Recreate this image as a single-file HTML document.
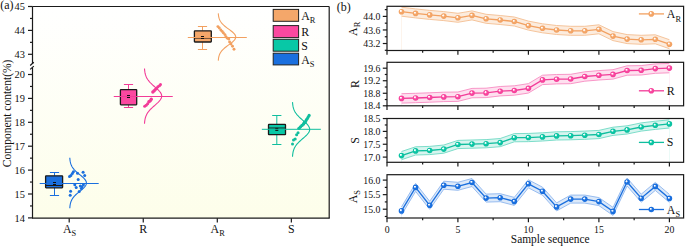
<!DOCTYPE html>
<html><head><meta charset="utf-8"><style>
html,body{margin:0;padding:0;background:#fff;}
svg{display:block;}
</style></head><body>
<svg width="685" height="246" viewBox="0 0 685 246">
<defs><linearGradient id="bg" x1="0" y1="0" x2="0" y2="1"><stop offset="0" stop-color="#ffffff"/><stop offset="1" stop-color="#FDFEEA"/></linearGradient>
<radialGradient id="sphAR" cx="0.5" cy="0.5" r="0.55" fx="0.34" fy="0.32"><stop offset="0" stop-color="#ffffff"/><stop offset="0.18" stop-color="#ffffff" stop-opacity="0.9"/><stop offset="0.45" stop-color="#F4A76A"/><stop offset="1" stop-color="#F2A060"/></radialGradient>
<radialGradient id="sphR" cx="0.5" cy="0.5" r="0.55" fx="0.34" fy="0.32"><stop offset="0" stop-color="#ffffff"/><stop offset="0.18" stop-color="#ffffff" stop-opacity="0.9"/><stop offset="0.45" stop-color="#FB48A0"/><stop offset="1" stop-color="#F23C98"/></radialGradient>
<radialGradient id="sphS" cx="0.5" cy="0.5" r="0.55" fx="0.34" fy="0.32"><stop offset="0" stop-color="#ffffff"/><stop offset="0.18" stop-color="#ffffff" stop-opacity="0.9"/><stop offset="0.45" stop-color="#08C8A6"/><stop offset="1" stop-color="#10BE9E"/></radialGradient>
<radialGradient id="sphAS" cx="0.5" cy="0.5" r="0.55" fx="0.34" fy="0.32"><stop offset="0" stop-color="#ffffff"/><stop offset="0.18" stop-color="#ffffff" stop-opacity="0.9"/><stop offset="0.45" stop-color="#1A6FDE"/><stop offset="1" stop-color="#1A6FDE"/></radialGradient>
</defs>
<rect x="32.5" y="6.5" width="296.7" height="211.7" fill="url(#bg)"/>
<line x1="54.5" y1="172.5" x2="54.5" y2="175.8" stroke="#1A6FDE" stroke-width="1"/>
<line x1="54.5" y1="187.8" x2="54.5" y2="195.5" stroke="#1A6FDE" stroke-width="1"/>
<line x1="49.9" y1="172.5" x2="59.1" y2="172.5" stroke="#1A6FDE" stroke-width="1"/>
<line x1="49.9" y1="195.5" x2="59.1" y2="195.5" stroke="#1A6FDE" stroke-width="1"/>
<rect x="45.6" y="175.8" width="17.0" height="12.0" fill="#1A6FDE" stroke="#1a1a1a" stroke-width="1.3" rx="0.5"/>
<line x1="45.6" y1="185.5" x2="62.6" y2="185.5" stroke="#1a1a1a" stroke-width="1" opacity="1"/>
<rect x="53" y="182" width="3" height="3" fill="#111"/>
<line x1="39.7" y1="183.5" x2="98.7" y2="183.5" stroke="#1A6FDE" stroke-width="1"/>
<polyline points="69.80,157.80 69.86,158.64 69.94,159.48 70.03,160.32 70.16,161.16 70.32,162.00 70.51,162.84 70.75,163.68 71.04,164.52 71.39,165.36 71.79,166.20 72.27,167.04 72.82,167.88 73.45,168.72 74.15,169.56 74.93,170.40 75.78,171.24 76.69,172.08 77.65,172.92 78.66,173.76 79.68,174.60 80.71,175.44 81.71,176.28 82.68,177.12 83.58,177.96 84.39,178.80 85.08,179.64 85.64,180.48 86.06,181.32 86.31,182.16 86.40,183.00 86.31,183.84 86.06,184.68 85.64,185.52 85.08,186.36 84.39,187.20 83.58,188.04 82.68,188.88 81.71,189.72 80.71,190.56 79.68,191.40 78.66,192.24 77.65,193.08 76.69,193.92 75.78,194.76 74.93,195.60 74.15,196.44 73.45,197.28 72.82,198.12 72.27,198.96 71.79,199.80 71.39,200.64 71.04,201.48 70.75,202.32 70.51,203.16 70.32,204.00 70.16,204.84 70.03,205.68 69.94,206.52 69.86,207.36 69.80,208.20" fill="none" stroke="#1A6FDE" stroke-width="1.1"/>
<line x1="128.5" y1="84.5" x2="128.5" y2="89.7" stroke="#F23C98" stroke-width="1"/>
<line x1="128.5" y1="104.8" x2="128.5" y2="107.5" stroke="#F23C98" stroke-width="1"/>
<line x1="123.9" y1="84.5" x2="133.1" y2="84.5" stroke="#F23C98" stroke-width="1"/>
<line x1="123.9" y1="107.5" x2="133.1" y2="107.5" stroke="#F23C98" stroke-width="1"/>
<rect x="120.4" y="89.7" width="16.299999999999983" height="15.099999999999994" fill="#FB48A0" stroke="#1a1a1a" stroke-width="1.3" rx="0.5"/>
<rect x="127" y="95" width="3" height="3" fill="#111"/>
<line x1="113.75" y1="96.5" x2="172.75" y2="96.5" stroke="#F23C98" stroke-width="1"/>
<polyline points="144.50,68.50 144.57,69.42 144.65,70.34 144.76,71.26 144.90,72.18 145.07,73.10 145.28,74.02 145.54,74.94 145.85,75.86 146.22,76.78 146.66,77.70 147.17,78.62 147.75,79.54 148.41,80.46 149.14,81.38 149.95,82.30 150.83,83.22 151.78,84.14 152.77,85.06 153.80,85.98 154.86,86.90 155.91,87.82 156.94,88.74 157.92,89.66 158.83,90.58 159.66,91.50 160.36,92.42 160.93,93.34 161.36,94.26 161.61,95.18 161.70,96.10 161.61,97.02 161.36,97.94 160.93,98.86 160.36,99.78 159.66,100.70 158.83,101.62 157.92,102.54 156.94,103.46 155.91,104.38 154.86,105.30 153.80,106.22 152.77,107.14 151.78,108.06 150.83,108.98 149.95,109.90 149.14,110.82 148.41,111.74 147.75,112.66 147.17,113.58 146.66,114.50 146.22,115.42 145.85,116.34 145.54,117.26 145.28,118.18 145.07,119.10 144.90,120.02 144.76,120.94 144.65,121.86 144.57,122.78 144.50,123.70" fill="none" stroke="#F23C98" stroke-width="1.1"/>
<line x1="202.5" y1="26.5" x2="202.5" y2="30.8" stroke="#F2A060" stroke-width="1"/>
<line x1="202.5" y1="42.0" x2="202.5" y2="49.5" stroke="#F2A060" stroke-width="1"/>
<line x1="197.9" y1="26.5" x2="207.1" y2="26.5" stroke="#F2A060" stroke-width="1"/>
<line x1="197.9" y1="49.5" x2="207.1" y2="49.5" stroke="#F2A060" stroke-width="1"/>
<rect x="194.4" y="30.8" width="16.900000000000006" height="11.2" fill="#F4A76A" stroke="#1a1a1a" stroke-width="1.3" rx="0.5"/>
<line x1="194.4" y1="38.5" x2="211.3" y2="38.5" stroke="#1a1a1a" stroke-width="1" opacity="0.55"/>
<rect x="201" y="36" width="3" height="3" fill="#111"/>
<line x1="187.8" y1="37.5" x2="246.8" y2="37.5" stroke="#F2A060" stroke-width="1"/>
<polyline points="218.30,13.40 218.36,14.19 218.45,14.97 218.55,15.76 218.68,16.55 218.85,17.33 219.06,18.12 219.31,18.91 219.62,19.69 219.99,20.48 220.42,21.27 220.92,22.05 221.50,22.84 222.16,23.63 222.90,24.41 223.72,25.20 224.61,25.99 225.56,26.77 226.57,27.56 227.62,28.35 228.69,29.13 229.76,29.92 230.82,30.71 231.82,31.49 232.76,32.28 233.60,33.07 234.33,33.85 234.91,34.64 235.35,35.43 235.61,36.21 235.70,37.00 235.61,37.79 235.35,38.57 234.91,39.36 234.33,40.15 233.60,40.93 232.76,41.72 231.82,42.51 230.82,43.29 229.76,44.08 228.69,44.87 227.62,45.65 226.57,46.44 225.56,47.23 224.61,48.01 223.72,48.80 222.90,49.59 222.16,50.37 221.50,51.16 220.92,51.95 220.42,52.73 219.99,53.52 219.62,54.31 219.31,55.09 219.06,55.88 218.85,56.67 218.68,57.45 218.55,58.24 218.45,59.03 218.36,59.81 218.30,60.60" fill="none" stroke="#F2A060" stroke-width="1.1"/>
<line x1="276.8" y1="115.5" x2="276.8" y2="124.4" stroke="#10BE9E" stroke-width="1"/>
<line x1="276.8" y1="134.7" x2="276.8" y2="144.5" stroke="#10BE9E" stroke-width="1"/>
<line x1="272.2" y1="115.5" x2="281.40000000000003" y2="115.5" stroke="#10BE9E" stroke-width="1"/>
<line x1="272.2" y1="144.5" x2="281.40000000000003" y2="144.5" stroke="#10BE9E" stroke-width="1"/>
<rect x="268.5" y="124.4" width="17.0" height="10.299999999999983" fill="#08C8A6" stroke="#1a1a1a" stroke-width="1.3" rx="0.5"/>
<line x1="268.5" y1="128.0" x2="285.5" y2="128.0" stroke="#1a1a1a" stroke-width="1" opacity="1"/>
<rect x="275.3" y="127.9" width="3" height="3" fill="#111"/>
<line x1="261.84999999999997" y1="129.3" x2="320.84999999999997" y2="129.3" stroke="#10BE9E" stroke-width="1"/>
<polyline points="292.50,102.10 292.57,103.01 292.65,103.92 292.76,104.83 292.90,105.74 293.07,106.65 293.28,107.56 293.54,108.47 293.85,109.38 294.22,110.29 294.66,111.20 295.17,112.11 295.75,113.02 296.41,113.93 297.14,114.84 297.95,115.75 298.83,116.66 299.78,117.57 300.77,118.48 301.80,119.39 302.86,120.30 303.91,121.21 304.94,122.12 305.92,123.03 306.83,123.94 307.66,124.85 308.36,125.76 308.93,126.67 309.36,127.58 309.61,128.49 309.70,129.40 309.61,130.31 309.36,131.22 308.93,132.13 308.36,133.04 307.66,133.95 306.83,134.86 305.92,135.77 304.94,136.68 303.91,137.59 302.86,138.50 301.80,139.41 300.77,140.32 299.78,141.23 298.83,142.14 297.95,143.05 297.14,143.96 296.41,144.87 295.75,145.78 295.17,146.69 294.66,147.60 294.22,148.51 293.85,149.42 293.54,150.33 293.28,151.24 293.07,152.15 292.90,153.06 292.76,153.97 292.65,154.88 292.57,155.79 292.50,156.70" fill="none" stroke="#10BE9E" stroke-width="1.1"/>
<circle cx="69.50" cy="176.40" r="1.5" fill="#1A6FDE"/>
<circle cx="70.90" cy="175.40" r="1.5" fill="#1A6FDE"/>
<circle cx="72.30" cy="173.60" r="1.5" fill="#1A6FDE"/>
<circle cx="73.40" cy="171.80" r="1.5" fill="#1A6FDE"/>
<circle cx="77.50" cy="173.20" r="1.5" fill="#1A6FDE"/>
<circle cx="83.10" cy="172.20" r="1.5" fill="#1A6FDE"/>
<circle cx="84.70" cy="175.40" r="1.5" fill="#1A6FDE"/>
<circle cx="78.20" cy="179.50" r="1.5" fill="#1A6FDE"/>
<circle cx="74.80" cy="184.70" r="1.5" fill="#1A6FDE"/>
<circle cx="76.20" cy="187.40" r="1.5" fill="#1A6FDE"/>
<circle cx="80.30" cy="186.00" r="1.5" fill="#1A6FDE"/>
<circle cx="82.00" cy="186.70" r="1.5" fill="#1A6FDE"/>
<circle cx="83.40" cy="184.70" r="1.5" fill="#1A6FDE"/>
<circle cx="81.30" cy="188.40" r="1.5" fill="#1A6FDE"/>
<circle cx="79.20" cy="191.60" r="1.5" fill="#1A6FDE"/>
<circle cx="70.60" cy="191.20" r="1.5" fill="#1A6FDE"/>
<circle cx="70.20" cy="195.30" r="1.5" fill="#1A6FDE"/>
<circle cx="152.84" cy="92.03" r="1.7" fill="#F23C98"/>
<circle cx="154.22" cy="90.76" r="1.7" fill="#F23C98"/>
<circle cx="155.68" cy="89.14" r="1.7" fill="#F23C98"/>
<circle cx="156.51" cy="88.20" r="1.5" fill="#F23C98"/>
<circle cx="157.82" cy="86.71" r="1.5" fill="#F23C98"/>
<circle cx="159.43" cy="85.72" r="1.5" fill="#F23C98"/>
<circle cx="160.50" cy="84.59" r="1.5" fill="#F23C98"/>
<circle cx="144.68" cy="106.19" r="1.5" fill="#F23C98"/>
<circle cx="146.18" cy="105.22" r="1.5" fill="#F23C98"/>
<circle cx="147.61" cy="103.74" r="1.5" fill="#F23C98"/>
<circle cx="148.90" cy="101.74" r="1.7" fill="#F23C98"/>
<circle cx="150.25" cy="100.85" r="1.7" fill="#F23C98"/>
<circle cx="151.28" cy="99.32" r="1.7" fill="#F23C98"/>
<circle cx="217.90" cy="26.60" r="1.45" fill="#F2A060"/>
<circle cx="219.30" cy="28.00" r="1.45" fill="#F2A060"/>
<circle cx="220.80" cy="30.00" r="1.45" fill="#F2A060"/>
<circle cx="222.20" cy="31.40" r="1.45" fill="#F2A060"/>
<circle cx="223.40" cy="32.90" r="1.45" fill="#F2A060"/>
<circle cx="224.90" cy="34.60" r="1.45" fill="#F2A060"/>
<circle cx="225.90" cy="36.80" r="1.45" fill="#F2A060"/>
<circle cx="227.40" cy="38.30" r="1.45" fill="#F2A060"/>
<circle cx="228.80" cy="39.00" r="1.45" fill="#F2A060"/>
<circle cx="229.60" cy="42.00" r="1.45" fill="#F2A060"/>
<circle cx="231.00" cy="44.10" r="1.45" fill="#F2A060"/>
<circle cx="232.50" cy="46.30" r="1.45" fill="#F2A060"/>
<circle cx="234.00" cy="49.30" r="1.45" fill="#F2A060"/>
<circle cx="309.12" cy="115.38" r="1.6" fill="#10BE9E"/>
<circle cx="308.19" cy="117.09" r="1.6" fill="#10BE9E"/>
<circle cx="307.35" cy="118.57" r="1.6" fill="#10BE9E"/>
<circle cx="306.32" cy="119.96" r="1.6" fill="#10BE9E"/>
<circle cx="305.51" cy="121.50" r="1.6" fill="#10BE9E"/>
<circle cx="304.93" cy="122.46" r="1.6" fill="#10BE9E"/>
<circle cx="304.48" cy="122.53" r="1.7" fill="#10BE9E"/>
<circle cx="303.58" cy="124.06" r="1.7" fill="#10BE9E"/>
<circle cx="301.98" cy="125.38" r="1.7" fill="#10BE9E"/>
<circle cx="300.50" cy="126.83" r="1.7" fill="#10BE9E"/>
<circle cx="299.01" cy="128.35" r="1.7" fill="#10BE9E"/>
<circle cx="298.05" cy="132.64" r="1.5" fill="#10BE9E"/>
<circle cx="296.61" cy="134.76" r="1.5" fill="#10BE9E"/>
<circle cx="295.21" cy="138.89" r="1.5" fill="#10BE9E"/>
<circle cx="293.50" cy="140.00" r="1.5" fill="#10BE9E"/>
<circle cx="292.52" cy="143.98" r="1.5" fill="#10BE9E"/>
<g stroke="#1a1a1a" stroke-width="1.2" fill="none">
<line x1="32.5" y1="6.5" x2="329.2" y2="6.5"/>
<line x1="329.2" y1="6.5" x2="329.2" y2="218.2"/>
<line x1="32.0" y1="218.2" x2="329.7" y2="218.2"/>
<line x1="32.5" y1="6.5" x2="32.5" y2="64"/>
<line x1="32.5" y1="67.5" x2="32.5" y2="218.2"/>
<line x1="30.2" y1="65.5" x2="33.8" y2="62.2"/>
<line x1="30.2" y1="69.4" x2="33.8" y2="66.1"/>
<line x1="28.0" y1="6.5" x2="32.5" y2="6.5"/>
<line x1="28.0" y1="30.4" x2="32.5" y2="30.4"/>
<line x1="28.0" y1="54.3" x2="32.5" y2="54.3"/>
<line x1="30.0" y1="18.45" x2="32.5" y2="18.45"/>
<line x1="30.0" y1="42.349999999999994" x2="32.5" y2="42.349999999999994"/>
<line x1="28.0" y1="217.9" x2="32.5" y2="217.9"/>
<line x1="28.0" y1="194.0" x2="32.5" y2="194.0"/>
<line x1="28.0" y1="170.10000000000002" x2="32.5" y2="170.10000000000002"/>
<line x1="28.0" y1="146.20000000000002" x2="32.5" y2="146.20000000000002"/>
<line x1="28.0" y1="122.30000000000001" x2="32.5" y2="122.30000000000001"/>
<line x1="28.0" y1="98.4" x2="32.5" y2="98.4"/>
<line x1="28.0" y1="74.50000000000003" x2="32.5" y2="74.50000000000003"/>
<line x1="30.0" y1="205.95000000000002" x2="32.5" y2="205.95000000000002"/>
<line x1="30.0" y1="182.05" x2="32.5" y2="182.05"/>
<line x1="30.0" y1="158.15" x2="32.5" y2="158.15"/>
<line x1="30.0" y1="134.25" x2="32.5" y2="134.25"/>
<line x1="30.0" y1="110.35000000000001" x2="32.5" y2="110.35000000000001"/>
<line x1="30.0" y1="86.45000000000002" x2="32.5" y2="86.45000000000002"/>
<line x1="69.2" y1="218.2" x2="69.2" y2="222.5"/>
<line x1="143.25" y1="218.2" x2="143.25" y2="222.5"/>
<line x1="217.3" y1="218.2" x2="217.3" y2="222.5"/>
<line x1="291.34999999999997" y1="218.2" x2="291.34999999999997" y2="222.5"/>
</g>
<g font-family='"Liberation Serif", serif' font-size="10.4" fill="#111" text-anchor="end">
<text transform="translate(25.0,10.40) scale(1,1.06)">45</text>
<text transform="translate(25.0,34.30) scale(1,1.06)">44</text>
<text transform="translate(25.0,58.20) scale(1,1.06)">43</text>
<text transform="translate(25.0,221.80) scale(1,1.06)">14</text>
<text transform="translate(25.0,197.90) scale(1,1.06)">15</text>
<text transform="translate(25.0,174.00) scale(1,1.06)">16</text>
<text transform="translate(25.0,150.10) scale(1,1.06)">17</text>
<text transform="translate(25.0,126.20) scale(1,1.06)">18</text>
<text transform="translate(25.0,102.30) scale(1,1.06)">19</text>
<text transform="translate(25.0,78.40) scale(1,1.06)">20</text>
</g>
<text transform="translate(69.60000000000001,232.6) scale(1,1.06)" font-family='"Liberation Serif", serif' font-size="11.9" fill="#111" text-anchor="middle" >A<tspan font-size="8.4" dy="3">S</tspan></text>
<text transform="translate(143.25,232.6) scale(1,1.06)" font-family='"Liberation Serif", serif' font-size="11.9" fill="#111" text-anchor="middle" >R</text>
<text transform="translate(217.70000000000002,232.6) scale(1,1.06)" font-family='"Liberation Serif", serif' font-size="11.9" fill="#111" text-anchor="middle" >A<tspan font-size="8.4" dy="3">R</tspan></text>
<text transform="translate(291.34999999999997,232.6) scale(1,1.06)" font-family='"Liberation Serif", serif' font-size="11.9" fill="#111" text-anchor="middle" >S</text>
<text transform="translate(0.3,9.4) scale(1,1.06)" font-family='"Liberation Serif", serif' font-size="12" fill="#111">(a)</text>
<text transform="translate(10.7,113.4) rotate(-90) scale(1,1.06)" font-family='"Liberation Serif", serif' font-size="11.5" fill="#111" text-anchor="middle">Component content(%)</text>
<rect x="273.2" y="9.4" width="25.4" height="11.9" fill="#F4A76A" stroke="#222" stroke-width="1"/>
<text transform="translate(301.2,19.900000000000002) scale(1,1.06)" font-family='"Liberation Serif", serif' font-size="11.9" fill="#111" text-anchor="start" >A<tspan font-size="8.4" dy="3">R</tspan></text>
<rect x="273.2" y="25.6" width="25.4" height="12.0" fill="#FB48A0" stroke="#222" stroke-width="1"/>
<text transform="translate(301.2,36.2) scale(1,1.06)" font-family='"Liberation Serif", serif' font-size="11.9" fill="#111" text-anchor="start" >R</text>
<rect x="273.2" y="39.3" width="25.4" height="11.900000000000006" fill="#08C8A6" stroke="#222" stroke-width="1"/>
<text transform="translate(301.2,49.800000000000004) scale(1,1.06)" font-family='"Liberation Serif", serif' font-size="11.9" fill="#111" text-anchor="start" >S</text>
<rect x="273.2" y="53.2" width="25.4" height="11.700000000000003" fill="#1A6FDE" stroke="#222" stroke-width="1"/>
<text transform="translate(301.2,63.50000000000001) scale(1,1.06)" font-family='"Liberation Serif", serif' font-size="11.9" fill="#111" text-anchor="start" >A<tspan font-size="8.4" dy="3">S</tspan></text>
<rect x="387.0" y="6.3" width="296.6" height="44.2" fill="#fff"/>
<polygon points="401.50,7.20 415.60,8.90 429.70,10.40 443.80,11.60 457.90,13.30 472.00,10.90 486.10,14.30 500.20,15.50 514.30,17.00 528.40,21.10 542.50,23.80 556.60,25.50 570.70,26.30 584.80,26.30 598.90,24.80 613.00,31.60 627.10,34.60 641.20,35.30 655.30,34.80 669.40,39.70 669.40,48.70 655.30,43.80 641.20,44.30 627.10,43.60 613.00,40.60 598.90,33.80 584.80,35.30 570.70,35.30 556.60,34.50 542.50,32.80 528.40,30.10 514.30,26.00 500.20,24.50 486.10,23.30 472.00,19.90 457.90,22.30 443.80,20.60 429.70,19.40 415.60,17.90 401.50,16.20" fill="#FBE2CD" opacity="0.65"/>
<polyline points="401.50,7.20 415.60,8.90 429.70,10.40 443.80,11.60 457.90,13.30 472.00,10.90 486.10,14.30 500.20,15.50 514.30,17.00 528.40,21.10 542.50,23.80 556.60,25.50 570.70,26.30 584.80,26.30 598.90,24.80 613.00,31.60 627.10,34.60 641.20,35.30 655.30,34.80 669.40,39.70" fill="none" stroke="#F4BE92" stroke-width="0.9"/>
<polyline points="401.50,16.20 415.60,17.90 429.70,19.40 443.80,20.60 457.90,22.30 472.00,19.90 486.10,23.30 500.20,24.50 514.30,26.00 528.40,30.10 542.50,32.80 556.60,34.50 570.70,35.30 584.80,35.30 598.90,33.80 613.00,40.60 627.10,43.60 641.20,44.30 655.30,43.80 669.40,48.70" fill="none" stroke="#F4BE92" stroke-width="0.9"/>
<line x1="401.50" y1="11.70" x2="401.50" y2="50.5" stroke="#FBE2CD" stroke-width="0.6" opacity="0.6"/>
<line x1="669.40" y1="44.20" x2="669.40" y2="50.5" stroke="#FBE2CD" stroke-width="0.6" opacity="0.6"/>
<polyline points="401.50,11.70 415.60,13.40 429.70,14.90 443.80,16.10 457.90,17.80 472.00,15.40 486.10,18.80 500.20,20.00 514.30,21.50 528.40,25.60 542.50,28.30 556.60,30.00 570.70,30.80 584.80,30.80 598.90,29.30 613.00,36.10 627.10,39.10 641.20,39.80 655.30,39.30 669.40,44.20" fill="none" stroke="#F2A060" stroke-width="1.3"/>
<circle cx="401.50" cy="11.70" r="2.8" fill="url(#sphAR)"/>
<circle cx="415.60" cy="13.40" r="2.8" fill="url(#sphAR)"/>
<circle cx="429.70" cy="14.90" r="2.8" fill="url(#sphAR)"/>
<circle cx="443.80" cy="16.10" r="2.8" fill="url(#sphAR)"/>
<circle cx="457.90" cy="17.80" r="2.8" fill="url(#sphAR)"/>
<circle cx="472.00" cy="15.40" r="2.8" fill="url(#sphAR)"/>
<circle cx="486.10" cy="18.80" r="2.8" fill="url(#sphAR)"/>
<circle cx="500.20" cy="20.00" r="2.8" fill="url(#sphAR)"/>
<circle cx="514.30" cy="21.50" r="2.8" fill="url(#sphAR)"/>
<circle cx="528.40" cy="25.60" r="2.8" fill="url(#sphAR)"/>
<circle cx="542.50" cy="28.30" r="2.8" fill="url(#sphAR)"/>
<circle cx="556.60" cy="30.00" r="2.8" fill="url(#sphAR)"/>
<circle cx="570.70" cy="30.80" r="2.8" fill="url(#sphAR)"/>
<circle cx="584.80" cy="30.80" r="2.8" fill="url(#sphAR)"/>
<circle cx="598.90" cy="29.30" r="2.8" fill="url(#sphAR)"/>
<circle cx="613.00" cy="36.10" r="2.8" fill="url(#sphAR)"/>
<circle cx="627.10" cy="39.10" r="2.8" fill="url(#sphAR)"/>
<circle cx="641.20" cy="39.80" r="2.8" fill="url(#sphAR)"/>
<circle cx="655.30" cy="39.30" r="2.8" fill="url(#sphAR)"/>
<circle cx="669.40" cy="44.20" r="2.8" fill="url(#sphAR)"/>
<line x1="638.9" y1="13.9" x2="664" y2="13.9" stroke="#F2A060" stroke-width="1.3"/>
<circle cx="651.3" cy="13.9" r="2.8" fill="url(#sphAR)"/>
<text transform="translate(666.8,18.4) scale(1,1.06)" font-family='"Liberation Serif", serif' font-size="11.9" fill="#111" text-anchor="start" >A<tspan font-size="8.4" dy="3">R</tspan></text>
<rect x="387.0" y="6.3" width="296.6" height="44.2" fill="none" stroke="#1a1a1a" stroke-width="1.2"/>
<g stroke="#1a1a1a" stroke-width="1.2">
<line x1="382.8" y1="43.52" x2="387.0" y2="43.52"/>
<line x1="384.8" y1="36.74" x2="387.0" y2="36.74"/>
<line x1="382.8" y1="29.96" x2="387.0" y2="29.96"/>
<line x1="384.8" y1="23.18" x2="387.0" y2="23.18"/>
<line x1="382.8" y1="16.40" x2="387.0" y2="16.40"/>
<line x1="384.8" y1="9.62" x2="387.0" y2="9.62"/>
<line x1="384.8" y1="50.30" x2="387.0" y2="50.30"/>
<line x1="387.00" y1="50.5" x2="387.00" y2="54.8"/>
<line x1="422.65" y1="50.5" x2="422.65" y2="52.7"/>
<line x1="457.90" y1="50.5" x2="457.90" y2="54.8"/>
<line x1="493.15" y1="50.5" x2="493.15" y2="52.7"/>
<line x1="528.40" y1="50.5" x2="528.40" y2="54.8"/>
<line x1="563.65" y1="50.5" x2="563.65" y2="52.7"/>
<line x1="598.90" y1="50.5" x2="598.90" y2="54.8"/>
<line x1="634.15" y1="50.5" x2="634.15" y2="52.7"/>
<line x1="669.40" y1="50.5" x2="669.40" y2="54.8"/>
</g>
<g font-family='"Liberation Serif", serif' font-size="9.8" fill="#111" text-anchor="end">
<text transform="translate(380.4,20.00) scale(1,1.06)">44.0</text>
<text transform="translate(380.4,33.56) scale(1,1.06)">43.6</text>
<text transform="translate(380.4,47.12) scale(1,1.06)">43.2</text>
</g>
<g transform="translate(357.3,28.8) rotate(-90)"><text transform="translate(0,0) scale(1,1.06)" font-family='"Liberation Serif", serif' font-size="11.9" fill="#111" text-anchor="middle" >A<tspan font-size="8.4" dy="3">R</tspan></text></g>
<rect x="387.0" y="62.3" width="296.6" height="43.5" fill="#fff"/>
<polygon points="401.50,93.70 415.60,93.30 429.70,92.80 443.80,92.20 457.90,92.00 472.00,88.40 486.10,88.20 500.20,86.50 514.30,85.80 528.40,83.65 542.50,75.20 556.60,74.50 570.70,74.30 584.80,71.80 598.90,70.60 613.00,69.70 627.10,65.80 641.20,65.60 655.30,63.90 669.40,63.40 669.40,72.80 655.30,73.30 641.20,75.00 627.10,75.20 613.00,79.10 598.90,80.00 584.80,81.20 570.70,83.70 556.60,83.90 542.50,84.60 528.40,93.05 514.30,95.20 500.20,95.90 486.10,97.60 472.00,97.80 457.90,101.40 443.80,101.60 429.70,102.20 415.60,102.70 401.50,103.10" fill="#FDD0E6" opacity="0.65"/>
<polyline points="401.50,93.70 415.60,93.30 429.70,92.80 443.80,92.20 457.90,92.00 472.00,88.40 486.10,88.20 500.20,86.50 514.30,85.80 528.40,83.65 542.50,75.20 556.60,74.50 570.70,74.30 584.80,71.80 598.90,70.60 613.00,69.70 627.10,65.80 641.20,65.60 655.30,63.90 669.40,63.40" fill="none" stroke="#F78CC2" stroke-width="0.9"/>
<polyline points="401.50,103.10 415.60,102.70 429.70,102.20 443.80,101.60 457.90,101.40 472.00,97.80 486.10,97.60 500.20,95.90 514.30,95.20 528.40,93.05 542.50,84.60 556.60,83.90 570.70,83.70 584.80,81.20 598.90,80.00 613.00,79.10 627.10,75.20 641.20,75.00 655.30,73.30 669.40,72.80" fill="none" stroke="#F78CC2" stroke-width="0.9"/>
<line x1="401.50" y1="98.40" x2="401.50" y2="105.8" stroke="#FDD0E6" stroke-width="0.6" opacity="0.6"/>
<line x1="669.40" y1="68.10" x2="669.40" y2="105.8" stroke="#FDD0E6" stroke-width="0.6" opacity="0.6"/>
<polyline points="401.50,98.40 415.60,98.00 429.70,97.50 443.80,96.90 457.90,96.70 472.00,93.10 486.10,92.90 500.20,91.20 514.30,90.50 528.40,88.35 542.50,79.90 556.60,79.20 570.70,79.00 584.80,76.50 598.90,75.30 613.00,74.40 627.10,70.50 641.20,70.30 655.30,68.60 669.40,68.10" fill="none" stroke="#F23C98" stroke-width="1.3"/>
<circle cx="401.50" cy="98.40" r="2.8" fill="url(#sphR)"/>
<circle cx="415.60" cy="98.00" r="2.8" fill="url(#sphR)"/>
<circle cx="429.70" cy="97.50" r="2.8" fill="url(#sphR)"/>
<circle cx="443.80" cy="96.90" r="2.8" fill="url(#sphR)"/>
<circle cx="457.90" cy="96.70" r="2.8" fill="url(#sphR)"/>
<circle cx="472.00" cy="93.10" r="2.8" fill="url(#sphR)"/>
<circle cx="486.10" cy="92.90" r="2.8" fill="url(#sphR)"/>
<circle cx="500.20" cy="91.20" r="2.8" fill="url(#sphR)"/>
<circle cx="514.30" cy="90.50" r="2.8" fill="url(#sphR)"/>
<circle cx="528.40" cy="88.35" r="2.8" fill="url(#sphR)"/>
<circle cx="542.50" cy="79.90" r="2.8" fill="url(#sphR)"/>
<circle cx="556.60" cy="79.20" r="2.8" fill="url(#sphR)"/>
<circle cx="570.70" cy="79.00" r="2.8" fill="url(#sphR)"/>
<circle cx="584.80" cy="76.50" r="2.8" fill="url(#sphR)"/>
<circle cx="598.90" cy="75.30" r="2.8" fill="url(#sphR)"/>
<circle cx="613.00" cy="74.40" r="2.8" fill="url(#sphR)"/>
<circle cx="627.10" cy="70.50" r="2.8" fill="url(#sphR)"/>
<circle cx="641.20" cy="70.30" r="2.8" fill="url(#sphR)"/>
<circle cx="655.30" cy="68.60" r="2.8" fill="url(#sphR)"/>
<circle cx="669.40" cy="68.10" r="2.8" fill="url(#sphR)"/>
<line x1="638.9" y1="90.8" x2="664" y2="90.8" stroke="#F23C98" stroke-width="1.3"/>
<circle cx="651.3" cy="90.8" r="2.8" fill="url(#sphR)"/>
<text transform="translate(666.8,94.7) scale(1,1.06)" font-family='"Liberation Serif", serif' font-size="11.9" fill="#111" text-anchor="start" >R</text>
<rect x="387.0" y="62.3" width="296.6" height="43.5" fill="none" stroke="#1a1a1a" stroke-width="1.2"/>
<g stroke="#1a1a1a" stroke-width="1.2">
<line x1="382.8" y1="105.80" x2="387.0" y2="105.80"/>
<line x1="384.8" y1="99.53" x2="387.0" y2="99.53"/>
<line x1="382.8" y1="93.27" x2="387.0" y2="93.27"/>
<line x1="384.8" y1="87.00" x2="387.0" y2="87.00"/>
<line x1="382.8" y1="80.74" x2="387.0" y2="80.74"/>
<line x1="384.8" y1="74.47" x2="387.0" y2="74.47"/>
<line x1="382.8" y1="68.20" x2="387.0" y2="68.20"/>
<line x1="387.00" y1="105.8" x2="387.00" y2="110.1"/>
<line x1="422.65" y1="105.8" x2="422.65" y2="108.0"/>
<line x1="457.90" y1="105.8" x2="457.90" y2="110.1"/>
<line x1="493.15" y1="105.8" x2="493.15" y2="108.0"/>
<line x1="528.40" y1="105.8" x2="528.40" y2="110.1"/>
<line x1="563.65" y1="105.8" x2="563.65" y2="108.0"/>
<line x1="598.90" y1="105.8" x2="598.90" y2="110.1"/>
<line x1="634.15" y1="105.8" x2="634.15" y2="108.0"/>
<line x1="669.40" y1="105.8" x2="669.40" y2="110.1"/>
</g>
<g font-family='"Liberation Serif", serif' font-size="9.8" fill="#111" text-anchor="end">
<text transform="translate(380.4,71.80) scale(1,1.06)">19.6</text>
<text transform="translate(380.4,84.34) scale(1,1.06)">19.2</text>
<text transform="translate(380.4,96.87) scale(1,1.06)">18.8</text>
<text transform="translate(380.4,109.40) scale(1,1.06)">18.4</text>
</g>
<g transform="translate(359.3,84.0) rotate(-90)"><text transform="translate(0,0) scale(1,1.06)" font-family='"Liberation Serif", serif' font-size="11.9" fill="#111" text-anchor="middle" >R</text></g>
<rect x="387.0" y="118.5" width="296.6" height="43.80000000000001" fill="#fff"/>
<polygon points="401.50,151.50 415.60,146.80 429.70,146.40 443.80,145.00 457.90,140.40 472.00,140.00 486.10,139.60 500.20,138.50 514.30,133.60 528.40,133.45 542.50,132.80 556.60,131.80 570.70,131.60 584.80,131.10 598.90,130.40 613.00,127.20 627.10,125.80 641.20,122.90 655.30,121.20 669.40,119.80 669.40,128.00 655.30,129.40 641.20,131.10 627.10,134.00 613.00,135.40 598.90,138.60 584.80,139.30 570.70,139.80 556.60,140.00 542.50,141.00 528.40,141.65 514.30,141.80 500.20,146.70 486.10,147.80 472.00,148.20 457.90,148.60 443.80,153.20 429.70,154.60 415.60,155.00 401.50,159.70" fill="#C2F0E6" opacity="0.65"/>
<polyline points="401.50,151.50 415.60,146.80 429.70,146.40 443.80,145.00 457.90,140.40 472.00,140.00 486.10,139.60 500.20,138.50 514.30,133.60 528.40,133.45 542.50,132.80 556.60,131.80 570.70,131.60 584.80,131.10 598.90,130.40 613.00,127.20 627.10,125.80 641.20,122.90 655.30,121.20 669.40,119.80" fill="none" stroke="#6FD9C4" stroke-width="0.9"/>
<polyline points="401.50,159.70 415.60,155.00 429.70,154.60 443.80,153.20 457.90,148.60 472.00,148.20 486.10,147.80 500.20,146.70 514.30,141.80 528.40,141.65 542.50,141.00 556.60,140.00 570.70,139.80 584.80,139.30 598.90,138.60 613.00,135.40 627.10,134.00 641.20,131.10 655.30,129.40 669.40,128.00" fill="none" stroke="#6FD9C4" stroke-width="0.9"/>
<line x1="401.50" y1="155.60" x2="401.50" y2="162.3" stroke="#C2F0E6" stroke-width="0.6" opacity="0.6"/>
<line x1="669.40" y1="123.90" x2="669.40" y2="162.3" stroke="#C2F0E6" stroke-width="0.6" opacity="0.6"/>
<polyline points="401.50,155.60 415.60,150.90 429.70,150.50 443.80,149.10 457.90,144.50 472.00,144.10 486.10,143.70 500.20,142.60 514.30,137.70 528.40,137.55 542.50,136.90 556.60,135.90 570.70,135.70 584.80,135.20 598.90,134.50 613.00,131.30 627.10,129.90 641.20,127.00 655.30,125.30 669.40,123.90" fill="none" stroke="#10BE9E" stroke-width="1.3"/>
<circle cx="401.50" cy="155.60" r="2.8" fill="url(#sphS)"/>
<circle cx="415.60" cy="150.90" r="2.8" fill="url(#sphS)"/>
<circle cx="429.70" cy="150.50" r="2.8" fill="url(#sphS)"/>
<circle cx="443.80" cy="149.10" r="2.8" fill="url(#sphS)"/>
<circle cx="457.90" cy="144.50" r="2.8" fill="url(#sphS)"/>
<circle cx="472.00" cy="144.10" r="2.8" fill="url(#sphS)"/>
<circle cx="486.10" cy="143.70" r="2.8" fill="url(#sphS)"/>
<circle cx="500.20" cy="142.60" r="2.8" fill="url(#sphS)"/>
<circle cx="514.30" cy="137.70" r="2.8" fill="url(#sphS)"/>
<circle cx="528.40" cy="137.55" r="2.8" fill="url(#sphS)"/>
<circle cx="542.50" cy="136.90" r="2.8" fill="url(#sphS)"/>
<circle cx="556.60" cy="135.90" r="2.8" fill="url(#sphS)"/>
<circle cx="570.70" cy="135.70" r="2.8" fill="url(#sphS)"/>
<circle cx="584.80" cy="135.20" r="2.8" fill="url(#sphS)"/>
<circle cx="598.90" cy="134.50" r="2.8" fill="url(#sphS)"/>
<circle cx="613.00" cy="131.30" r="2.8" fill="url(#sphS)"/>
<circle cx="627.10" cy="129.90" r="2.8" fill="url(#sphS)"/>
<circle cx="641.20" cy="127.00" r="2.8" fill="url(#sphS)"/>
<circle cx="655.30" cy="125.30" r="2.8" fill="url(#sphS)"/>
<circle cx="669.40" cy="123.90" r="2.8" fill="url(#sphS)"/>
<line x1="638.9" y1="142.4" x2="664" y2="142.4" stroke="#10BE9E" stroke-width="1.3"/>
<circle cx="651.3" cy="142.4" r="2.8" fill="url(#sphS)"/>
<text transform="translate(666.8,146.4) scale(1,1.06)" font-family='"Liberation Serif", serif' font-size="11.9" fill="#111" text-anchor="start" >S</text>
<rect x="387.0" y="118.5" width="296.6" height="43.80000000000001" fill="none" stroke="#1a1a1a" stroke-width="1.2"/>
<g stroke="#1a1a1a" stroke-width="1.2">
<line x1="382.8" y1="157.10" x2="387.0" y2="157.10"/>
<line x1="384.8" y1="150.67" x2="387.0" y2="150.67"/>
<line x1="382.8" y1="144.25" x2="387.0" y2="144.25"/>
<line x1="384.8" y1="137.82" x2="387.0" y2="137.82"/>
<line x1="382.8" y1="131.40" x2="387.0" y2="131.40"/>
<line x1="384.8" y1="124.97" x2="387.0" y2="124.97"/>
<line x1="382.8" y1="118.55" x2="387.0" y2="118.55"/>
<line x1="387.00" y1="162.3" x2="387.00" y2="166.60000000000002"/>
<line x1="422.65" y1="162.3" x2="422.65" y2="164.5"/>
<line x1="457.90" y1="162.3" x2="457.90" y2="166.60000000000002"/>
<line x1="493.15" y1="162.3" x2="493.15" y2="164.5"/>
<line x1="528.40" y1="162.3" x2="528.40" y2="166.60000000000002"/>
<line x1="563.65" y1="162.3" x2="563.65" y2="164.5"/>
<line x1="598.90" y1="162.3" x2="598.90" y2="166.60000000000002"/>
<line x1="634.15" y1="162.3" x2="634.15" y2="164.5"/>
<line x1="669.40" y1="162.3" x2="669.40" y2="166.60000000000002"/>
</g>
<g font-family='"Liberation Serif", serif' font-size="9.8" fill="#111" text-anchor="end">
<text transform="translate(380.4,122.15) scale(1,1.06)">18.5</text>
<text transform="translate(380.4,135.00) scale(1,1.06)">18.0</text>
<text transform="translate(380.4,147.85) scale(1,1.06)">17.5</text>
<text transform="translate(380.4,160.70) scale(1,1.06)">17.0</text>
</g>
<g transform="translate(359.3,140.4) rotate(-90)"><text transform="translate(0,0) scale(1,1.06)" font-family='"Liberation Serif", serif' font-size="11.9" fill="#111" text-anchor="middle" >S</text></g>
<rect x="387.0" y="174.7" width="296.6" height="43.30000000000001" fill="#fff"/>
<polygon points="401.50,206.90 415.60,183.40 429.70,201.30 443.80,181.20 457.90,182.30 472.00,178.50 486.10,194.10 500.20,193.70 514.30,197.40 528.40,179.80 542.50,187.20 556.60,202.90 570.70,195.10 584.80,195.10 598.90,197.60 613.00,207.40 627.10,178.00 641.20,194.20 655.30,182.40 669.40,194.40 669.40,202.40 655.30,190.40 641.20,202.20 627.10,186.00 613.00,215.40 598.90,205.60 584.80,203.10 570.70,203.10 556.60,210.90 542.50,195.20 528.40,187.80 514.30,205.40 500.20,201.70 486.10,202.10 472.00,186.50 457.90,190.30 443.80,189.20 429.70,209.30 415.60,191.40 401.50,214.90" fill="#CADDF6" opacity="0.65"/>
<polyline points="401.50,206.90 415.60,183.40 429.70,201.30 443.80,181.20 457.90,182.30 472.00,178.50 486.10,194.10 500.20,193.70 514.30,197.40 528.40,179.80 542.50,187.20 556.60,202.90 570.70,195.10 584.80,195.10 598.90,197.60 613.00,207.40 627.10,178.00 641.20,194.20 655.30,182.40 669.40,194.40" fill="none" stroke="#8DB6EE" stroke-width="0.9"/>
<polyline points="401.50,214.90 415.60,191.40 429.70,209.30 443.80,189.20 457.90,190.30 472.00,186.50 486.10,202.10 500.20,201.70 514.30,205.40 528.40,187.80 542.50,195.20 556.60,210.90 570.70,203.10 584.80,203.10 598.90,205.60 613.00,215.40 627.10,186.00 641.20,202.20 655.30,190.40 669.40,202.40" fill="none" stroke="#8DB6EE" stroke-width="0.9"/>
<line x1="401.50" y1="210.90" x2="401.50" y2="218.0" stroke="#CADDF6" stroke-width="0.6" opacity="0.6"/>
<line x1="669.40" y1="198.40" x2="669.40" y2="218.0" stroke="#CADDF6" stroke-width="0.6" opacity="0.6"/>
<polyline points="401.50,210.90 415.60,187.40 429.70,205.30 443.80,185.20 457.90,186.30 472.00,182.50 486.10,198.10 500.20,197.70 514.30,201.40 528.40,183.80 542.50,191.20 556.60,206.90 570.70,199.10 584.80,199.10 598.90,201.60 613.00,211.40 627.10,182.00 641.20,198.20 655.30,186.40 669.40,198.40" fill="none" stroke="#1A6FDE" stroke-width="1.3"/>
<circle cx="401.50" cy="210.90" r="2.8" fill="url(#sphAS)"/>
<circle cx="415.60" cy="187.40" r="2.8" fill="url(#sphAS)"/>
<circle cx="429.70" cy="205.30" r="2.8" fill="url(#sphAS)"/>
<circle cx="443.80" cy="185.20" r="2.8" fill="url(#sphAS)"/>
<circle cx="457.90" cy="186.30" r="2.8" fill="url(#sphAS)"/>
<circle cx="472.00" cy="182.50" r="2.8" fill="url(#sphAS)"/>
<circle cx="486.10" cy="198.10" r="2.8" fill="url(#sphAS)"/>
<circle cx="500.20" cy="197.70" r="2.8" fill="url(#sphAS)"/>
<circle cx="514.30" cy="201.40" r="2.8" fill="url(#sphAS)"/>
<circle cx="528.40" cy="183.80" r="2.8" fill="url(#sphAS)"/>
<circle cx="542.50" cy="191.20" r="2.8" fill="url(#sphAS)"/>
<circle cx="556.60" cy="206.90" r="2.8" fill="url(#sphAS)"/>
<circle cx="570.70" cy="199.10" r="2.8" fill="url(#sphAS)"/>
<circle cx="584.80" cy="199.10" r="2.8" fill="url(#sphAS)"/>
<circle cx="598.90" cy="201.60" r="2.8" fill="url(#sphAS)"/>
<circle cx="613.00" cy="211.40" r="2.8" fill="url(#sphAS)"/>
<circle cx="627.10" cy="182.00" r="2.8" fill="url(#sphAS)"/>
<circle cx="641.20" cy="198.20" r="2.8" fill="url(#sphAS)"/>
<circle cx="655.30" cy="186.40" r="2.8" fill="url(#sphAS)"/>
<circle cx="669.40" cy="198.40" r="2.8" fill="url(#sphAS)"/>
<line x1="638.9" y1="209.5" x2="664" y2="209.5" stroke="#1A6FDE" stroke-width="1.3"/>
<circle cx="651.3" cy="209.5" r="2.8" fill="url(#sphAS)"/>
<text transform="translate(666.8,213.6) scale(1,1.06)" font-family='"Liberation Serif", serif' font-size="11.9" fill="#111" text-anchor="start" >A<tspan font-size="8.4" dy="3">S</tspan></text>
<rect x="387.0" y="174.7" width="296.6" height="43.30000000000001" fill="none" stroke="#1a1a1a" stroke-width="1.2"/>
<g stroke="#1a1a1a" stroke-width="1.2">
<line x1="382.8" y1="209.20" x2="387.0" y2="209.20"/>
<line x1="384.8" y1="201.92" x2="387.0" y2="201.92"/>
<line x1="382.8" y1="194.65" x2="387.0" y2="194.65"/>
<line x1="384.8" y1="187.38" x2="387.0" y2="187.38"/>
<line x1="382.8" y1="180.10" x2="387.0" y2="180.10"/>
<line x1="384.8" y1="216.47" x2="387.0" y2="216.47"/>
<line x1="387.00" y1="218.0" x2="387.00" y2="222.3"/>
<line x1="422.65" y1="218.0" x2="422.65" y2="220.2"/>
<line x1="457.90" y1="218.0" x2="457.90" y2="222.3"/>
<line x1="493.15" y1="218.0" x2="493.15" y2="220.2"/>
<line x1="528.40" y1="218.0" x2="528.40" y2="222.3"/>
<line x1="563.65" y1="218.0" x2="563.65" y2="220.2"/>
<line x1="598.90" y1="218.0" x2="598.90" y2="222.3"/>
<line x1="634.15" y1="218.0" x2="634.15" y2="220.2"/>
<line x1="669.40" y1="218.0" x2="669.40" y2="222.3"/>
</g>
<g font-family='"Liberation Serif", serif' font-size="9.8" fill="#111" text-anchor="end">
<text transform="translate(380.4,183.70) scale(1,1.06)">16.0</text>
<text transform="translate(380.4,198.25) scale(1,1.06)">15.5</text>
<text transform="translate(380.4,212.80) scale(1,1.06)">15.0</text>
</g>
<g transform="translate(356.8,196.6) rotate(-90)"><text transform="translate(0,0) scale(1,1.06)" font-family='"Liberation Serif", serif' font-size="11.9" fill="#111" text-anchor="middle" >A<tspan font-size="8.4" dy="3">S</tspan></text></g>
<g font-family='"Liberation Serif", serif' font-size="9.8" fill="#111" text-anchor="middle">
<text transform="translate(387.10,233.0) scale(1,1.06)">0</text>
<text transform="translate(457.90,233.0) scale(1,1.06)">5</text>
<text transform="translate(528.40,233.0) scale(1,1.06)">10</text>
<text transform="translate(598.90,233.0) scale(1,1.06)">15</text>
<text transform="translate(669.40,233.0) scale(1,1.06)">20</text>
</g>
<text transform="translate(550.2,243.0) scale(1,1.06)" font-family='"Liberation Serif", serif' font-size="11.4" fill="#111" text-anchor="middle">Sample sequence</text>
<text transform="translate(336.7,10.8) scale(1,1.06)" font-family='"Liberation Serif", serif' font-size="12" fill="#111">(b)</text>
</svg>
</body></html>
